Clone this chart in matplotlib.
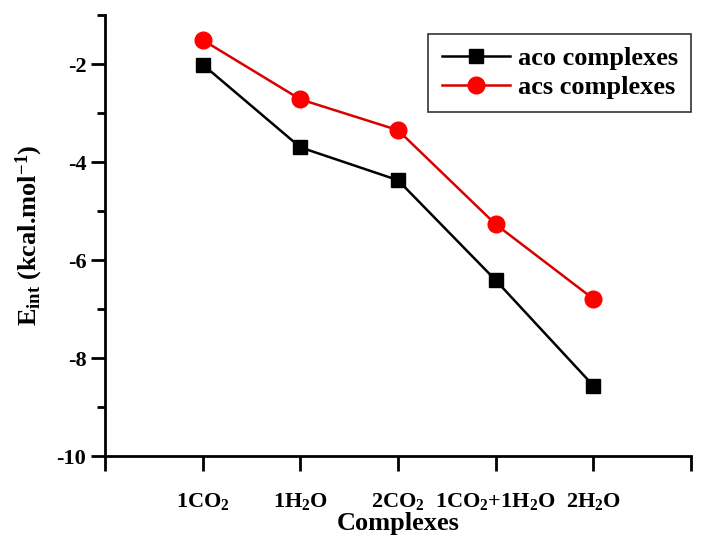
import matplotlib
matplotlib.use("Agg")
import matplotlib.pyplot as plt
from matplotlib.ticker import MultipleLocator

complexes = ["1CO$_2$", "1H$_2$O", "2CO$_2$", "1CO$_2$+1H$_2$O", "2H$_2$O"]
aco = [-2.01, -3.70, -4.37, -6.41, -8.56]
acs = [-1.51, -2.72, -3.35, -5.27, -6.79]

plt.rcParams["font.family"] = "Liberation Serif"
plt.rcParams["font.weight"] = "bold"
plt.rcParams["axes.labelweight"] = "bold"
plt.rcParams["axes.unicode_minus"] = False
plt.rcParams["mathtext.fontset"] = "custom"
plt.rcParams["mathtext.rm"] = "Liberation Serif:bold"
plt.rcParams["mathtext.it"] = "Liberation Serif:bold"
plt.rcParams["mathtext.bf"] = "Liberation Serif:bold"

fig = plt.figure(figsize=(7.05, 5.36), dpi=100)
ax = fig.add_axes([0.149, 0.149, 0.831, 0.823])

x = list(range(1, len(complexes) + 1))
ax.plot(x, aco, color="black", marker="s", markersize=10, linewidth=1.8,
        label="aco complexes")
ax.plot(x, acs, color="#d80000", marker="o", markersize=12, linewidth=1.8,
        markerfacecolor="red", markeredgecolor="red", label="acs complexes")

ax.set_xlim(0, 6)
ax.set_ylim(-10, -1)
ax.set_xticks(range(0, 7))
ax.set_xticklabels([""] + complexes + [""], fontsize=16)
ax.yaxis.set_major_locator(MultipleLocator(2))
ax.yaxis.set_minor_locator(MultipleLocator(1))
ax.set_yticks([-10, -8, -6, -4, -2])
ax.tick_params(axis="y", labelsize=16)

for s in ["top", "right"]:
    ax.spines[s].set_visible(False)
for s in ["left", "bottom"]:
    ax.spines[s].set_linewidth(2)
ax.tick_params(which="major", direction="out", length=10, width=2)
ax.tick_params(axis="x", which="major", length=11, pad=14)
ax.tick_params(which="minor", direction="out", length=5.5, width=2)

ax.set_xlabel("Complexes", fontsize=19, labelpad=0)
ax.set_ylabel("E$_{int}$ (kcal.mol$^{-1}$)", fontsize=19, labelpad=8)

leg = ax.legend(loc="upper right", bbox_to_anchor=(1.01, 0.97), fontsize=19,
                frameon=True, fancybox=False, edgecolor="black",
                handlelength=2.6, handletextpad=0.3, borderpad=0.5,
                labelspacing=0.2, borderaxespad=0.2)
leg.get_frame().set_linewidth(1.2)

fig.savefig("out.png", dpi=100)
